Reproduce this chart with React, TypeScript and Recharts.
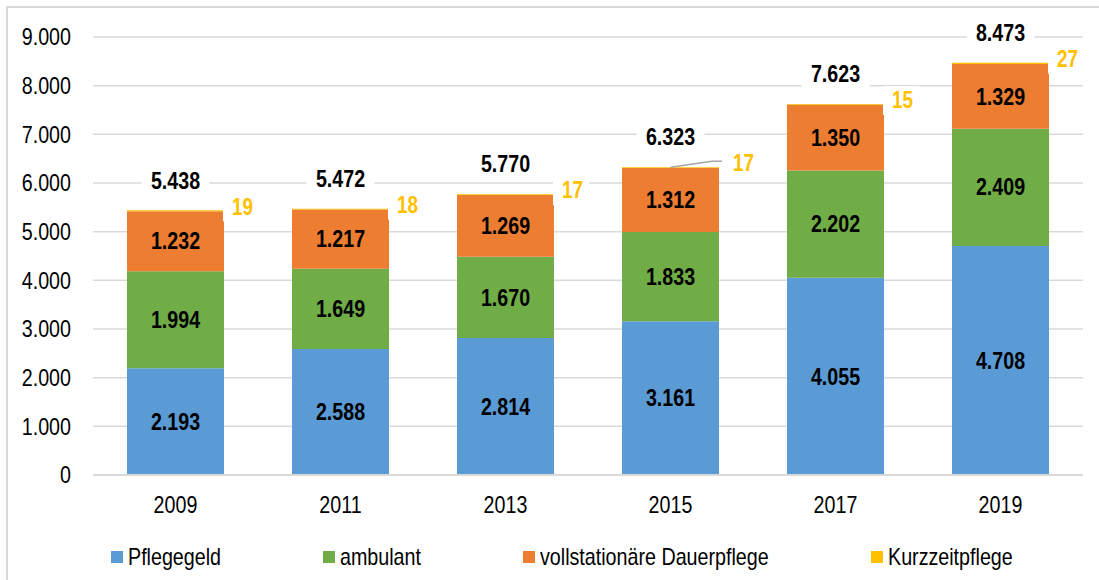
import React from "react";
import { Bar, BarChart, CartesianGrid, LabelList, XAxis, YAxis } from "recharts";

const years = ["2009", "2011", "2013", "2015", "2017", "2019"];
const pflegegeld = [2193, 2588, 2814, 3161, 4055, 4708];
const ambulant = [1994, 1649, 1670, 1833, 2202, 2409];
const dauerpflege = [1232, 1217, 1269, 1312, 1350, 1329];
const kurzzeitpflege = [19, 18, 17, 17, 15, 27];
const totals = [5438, 5472, 5770, 6323, 7623, 8473];
const yTicks = [0, 1000, 2000, 3000, 4000, 5000, 6000, 7000, 8000, 9000];

const seriesNames = ["Pflegegeld", "ambulant", "vollstationäre Dauerpflege", "Kurzzeitpflege"];
const colors = ["#5B9BD5", "#70AD47", "#ED7D31", "#FFC000"];

const data = years.map((year, i) => ({
  year,
  pflegegeld: pflegegeld[i],
  ambulant: ambulant[i],
  dauerpflege: dauerpflege[i],
  kurzzeitpflege: kurzzeitpflege[i],
  total: totals[i],
}));

const FONT = "'Liberation Sans', Arial, sans-serif";
const NARROW = 0.82; // original uses a narrow face, squeeze the regular one
const fmt = (v: number) => String(v).replace(/\B(?=(\d{3})+(?!\d))/g, ".");

// legend item left edges, as in the original layout
const legendX = [111, 323, 523, 871];

function NText({ x, y, anchor = "middle", size = 24, bold = false, color = "#000", children }: any) {
  return (
    <text
      transform={`translate(${x},${y}) scale(${NARROW},1)`}
      textAnchor={anchor}
      dominantBaseline="central"
      fontFamily={FONT}
      fontSize={size}
      fontWeight={bold ? "bold" : "normal"}
      fill={color}
    >
      {children}
    </text>
  );
}

function YTick(props: any) {
  const { x, y, payload } = props;
  return <NText x={x} y={y} anchor="end">{fmt(payload.value)}</NText>;
}

function XTick(props: any) {
  const { x, y, payload } = props;
  return <NText x={x} y={y}>{payload.value}</NText>;
}

function SegLabel(props: any) {
  const { x, y, width, height, value } = props;
  return (
    <NText x={x + width / 2} y={y + height / 2} size={24} bold>
      {fmt(Number(value))}
    </NText>
  );
}

function TopLabels(props: any) {
  const { x, y, width, index, value } = props;
  const cx = x + width / 2;
  const right = x + width;
  const leader = index === 3;
  const kx = right + (leader ? 14 : 8);
  return (
    <g>
      <rect x={cx - 34} y={y - 43} width={68} height={26} fill="#fff" />
      <NText x={cx} y={y - 30} size={24} bold>
        {fmt(data[index].total)}
      </NText>
      {!leader && <rect x={right - 1} y={y - 18} width={36} height={29} fill="#fff" />}
      {leader && (
        <polyline
          points={`${cx},${y} ${right - 7},${y - 6} ${right + 3},${y - 6}`}
          fill="none"
          stroke="#a6a6a6"
          strokeWidth={1.5}
        />
      )}
      <NText x={kx} y={y - 4} anchor="start" size={23} bold color="#FFC000">
        {value}
      </NText>
    </g>
  );
}

export default function App() {
  return (
    <div
      style={{
        position: "absolute",
        left: 0,
        top: 0,
        width: 1099,
        height: 580,
        overflow: "hidden",
        background: "#fff",
        fontFamily: FONT,
      }}
    >
      <div
        style={{
          position: "absolute",
          left: 6,
          top: 6,
          width: 1200,
          height: 700,
          border: "2px solid #d9d9d9",
        }}
      />
      <div style={{ position: "absolute", left: 0, top: 0 }}>
        <BarChart width={1099} height={580} data={data} margin={{ top: 37, right: 16, bottom: 75, left: 0 }}>
          <CartesianGrid vertical={false} stroke="#d9d9d9" strokeWidth={1.5} />
          <XAxis
            dataKey="year"
            height={30}
            tickLine={false}
            tickSize={0}
            tickMargin={30}
            axisLine={{ stroke: "#d9d9d9", strokeWidth: 2 }}
            tick={<XTick />}
          />
          <YAxis
            width={93}
            domain={[0, 9000]}
            ticks={yTicks}
            tickLine={false}
            axisLine={false}
            tickSize={0}
            tickMargin={22}
            tick={<YTick />}
          />
          <Bar dataKey="pflegegeld" name={seriesNames[0]} stackId="a" fill={colors[0]} barSize={97} isAnimationActive={false}>
            <LabelList dataKey="pflegegeld" content={<SegLabel />} />
          </Bar>
          <Bar dataKey="ambulant" name={seriesNames[1]} stackId="a" fill={colors[1]} barSize={97} isAnimationActive={false}>
            <LabelList dataKey="ambulant" content={<SegLabel />} />
          </Bar>
          <Bar dataKey="dauerpflege" name={seriesNames[2]} stackId="a" fill={colors[2]} barSize={97} isAnimationActive={false}>
            <LabelList dataKey="dauerpflege" content={<SegLabel />} />
          </Bar>
          <Bar dataKey="kurzzeitpflege" name={seriesNames[3]} stackId="a" fill={colors[3]} barSize={97} isAnimationActive={false}>
            <LabelList dataKey="kurzzeitpflege" content={<TopLabels />} />
          </Bar>
        </BarChart>
      </div>
      {seriesNames.map((name, i) => (
        <div
          key={name}
          style={{
            position: "absolute",
            left: legendX[i],
            top: 544,
            height: 26,
            display: "flex",
            alignItems: "center",
            color: "#000",
            whiteSpace: "nowrap",
          }}
        >
          <span style={{ width: 12, height: 12, background: colors[i], marginRight: 5, display: "inline-block" }} />
          <span
            style={{
              display: "inline-block",
              fontSize: 24,
              transform: `scaleX(${NARROW})`,
              transformOrigin: "left center",
            }}
          >
            {name}
          </span>
        </div>
      ))}
    </div>
  );
}
